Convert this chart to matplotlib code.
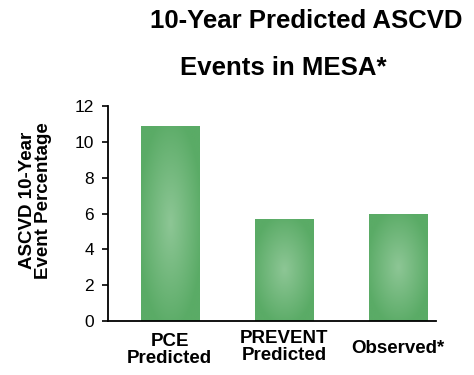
import numpy as np
import matplotlib.pyplot as plt
from matplotlib.colors import LinearSegmentedColormap

plt.rcParams["font.family"] = ["Liberation Sans", "DejaVu Sans"]

# ── Data ─────────────────────────────────────────────
groups = ["PCE\nPredicted", "PREVENT\nPredicted", "Observed*"]
event_pct = [10.9, 5.7, 6.0]
y_ticks = [0, 2, 4, 6, 8, 10, 12]

EDGE_GREEN = "#5aab66"
CENTER_GREEN = "#8dc695"

fig = plt.figure(figsize=(4.74, 3.75), dpi=100)
ax = fig.add_axes([0.228, 0.144, 0.692, 0.573])

x = np.arange(len(groups))
bars = ax.bar(x, event_pct, width=0.51, color=EDGE_GREEN, zorder=2)

# radial shading inside each bar
cmap = LinearSegmentedColormap.from_list("bar_glow", [CENTER_GREEN, EDGE_GREEN])
yy, xx = np.mgrid[-1:1:200j, -1:1:200j]
glow = np.clip(np.sqrt(xx**2 + yy**2) / 1.1, 0, 1)
for bar in bars:
    x0, w, h = bar.get_x(), bar.get_width(), bar.get_height()
    im = ax.imshow(glow, cmap=cmap, extent=[x0, x0 + w, 0, h],
                   aspect="auto", zorder=3, interpolation="bilinear")
    im.set_clip_path(bar)

ax.set_xlim(-0.54, 2.33)
ax.set_ylim(0, 12)
ax.set_yticks(y_ticks)
ax.tick_params(axis="y", labelsize=12.5, length=4, width=1.2, direction="out", pad=6)
ax.set_xticks([])

for side in ["top", "right"]:
    ax.spines[side].set_visible(False)
ax.spines["left"].set_linewidth(1.3)
ax.spines["bottom"].set_linewidth(1.3)
ax.spines["bottom"].set_zorder(4)

# category labels under the axis
offsets = [-0.055, -0.042, -0.088]
for xi, name, off in zip(x, groups, offsets):
    ax.text(xi, off, name, transform=ax.get_xaxis_transform(),
            ha="center", va="top", fontsize=13.5, fontweight="bold",
            linespacing=1.0)

ax.set_ylabel("ASCVD 10-Year\nEvent Percentage", fontsize=13.5,
              fontweight="bold", linespacing=0.95)
ax.yaxis.set_label_coords(-0.171, 0.56)

fig.text(0.646, 0.925, "10-Year Predicted ASCVD", ha="center",
         fontsize=18.5, fontweight="bold")
fig.text(0.597, 0.80, "Events in MESA*", ha="center",
         fontsize=18.5, fontweight="bold")

plt.savefig("out.png", dpi=100)
